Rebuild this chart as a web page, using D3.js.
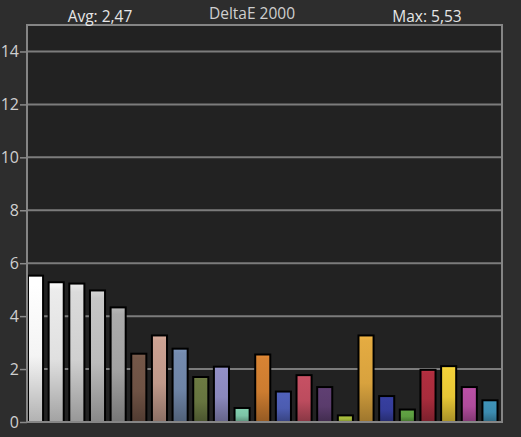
<!DOCTYPE html>
<html><head><meta charset="utf-8">
<script src="https://cdn.jsdelivr.net/npm/d3@7"></script>
<style>html,body{margin:0;padding:0;background:#2d2d2d;}svg{display:block;}</style>
</head><body>
<svg id="c" width="521" height="437"></svg>
<script>
const title = "DeltaE 2000";
const avgLabel = "Avg: 2,47";
const maxLabel = "Max: 5,53";
const categories = d3.range(1, 24).map(String);
const values = [5.53,5.28,5.23,4.97,4.33,2.58,3.27,2.77,1.70,2.09,0.53,2.55,1.15,1.77,1.32,0.25,3.27,0.98,0.47,1.97,2.11,1.32,0.82];
const colors = ["#f4f4f4","#e0e0e0","#d0d0d0","#bcbcbc","#a2a2a2","#6e5244","#c0998a","#6e84a6","#66743f","#8a88bc","#7cc4a6","#cc7c30","#4c5cb0","#bc4c5e","#5a3c6c","#a4b83c","#d8a23e","#343c98","#5c9c40","#a82c3c","#e6c636","#b04c9c","#3c8cb0"];
const yTicks = [0,2,4,6,8,10,12,14];

const svg = d3.select("#c");
const W = 521, H = 437;
const L = 27, R = 502, T = 25, B = 422;
svg.append("rect").attr("width", W).attr("height", H).attr("fill", "#2d2d2d");
svg.append("rect").attr("x", L).attr("y", T).attr("width", R - L).attr("height", B - T).attr("fill", "#222222");

const y = d3.scaleLinear().domain([0, 15]).range([B, T]);
const x = d3.scaleBand().domain(categories).range([25.2, 500.3]).paddingInner(0.27).paddingOuter(0.135);

// grid lines
svg.append("g").selectAll("line").data(yTicks.filter(d => d > 0)).join("line")
  .attr("x1", L).attr("x2", R).attr("y1", d => y(d)).attr("y2", d => y(d))
  .attr("stroke", "#7c7c7c").attr("stroke-width", 2);

// y axis
const yAxis = d3.axisLeft(y).tickValues(yTicks).tickSize(7).tickPadding(1);
const ga = svg.append("g").attr("transform", `translate(${L},0)`).call(yAxis);
ga.select(".domain").remove();
ga.selectAll(".tick line").attr("stroke", "#8a8a8a").attr("stroke-width", 1.5);
ga.selectAll(".tick text").attr("fill", "#cfcfcf").style("font-family", "'Open Sans', sans-serif").style("font-size", "16px");

// gradients
const defs = svg.append("defs");
colors.forEach((c, i) => {
  const g = defs.append("linearGradient").attr("id", "g" + i).attr("x1", 0).attr("y1", 0).attr("x2", 0).attr("y2", 1);
  const base = d3.color(c);
  g.append("stop").attr("offset", "0%").attr("stop-color", base.brighter(0.35).formatHex());
  g.append("stop").attr("offset", "6%").attr("stop-color", base.brighter(0.15).formatHex());
  g.append("stop").attr("offset", "55%").attr("stop-color", base.formatHex());
  g.append("stop").attr("offset", "100%").attr("stop-color", base.darker(0.9).formatHex());
});

// bars
svg.append("g").selectAll("rect").data(values).join("rect")
  .attr("x", (d, i) => x(categories[i]))
  .attr("y", d => y(d))
  .attr("width", x.bandwidth())
  .attr("height", d => B - y(d))
  .attr("fill", (d, i) => `url(#g${i})`)
  .attr("stroke", "#000").attr("stroke-width", 2);

// frame
svg.append("rect").attr("x", L).attr("y", T).attr("width", R - L).attr("height", B - T)
  .attr("fill", "none").attr("stroke", "#858585").attr("stroke-width", 2);

// titles
const tf = "'Open Sans', sans-serif";
svg.append("text").attr("x", 252).attr("y", 19).attr("text-anchor", "middle").attr("fill", "#cfcfcf")
  .style("font-family", tf).style("font-size", "15.5px").text(title);
svg.append("text").attr("x", 100).attr("y", 22).attr("text-anchor", "middle").attr("fill", "#e6e6e6")
  .style("font-family", tf).style("font-size", "15.5px").text(avgLabel);
svg.append("text").attr("x", 427).attr("y", 22).attr("text-anchor", "middle").attr("fill", "#e6e6e6")
  .style("font-family", tf).style("font-size", "15.5px").text(maxLabel);
</script>
</body></html>
